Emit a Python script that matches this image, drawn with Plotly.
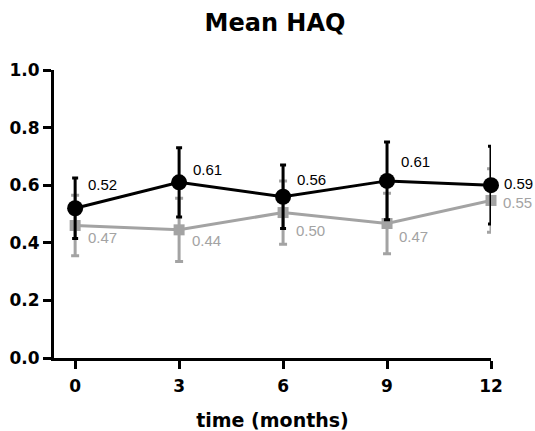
import plotly.graph_objects as go

# ---- data ----
months = [0, 3, 6, 9, 12]
tick_labels = ["0", "3", "6", "9", "12"]
y_ticks = [0, 0.2, 0.4, 0.6, 0.8, 1.0]
y_tick_labels = ["0.0", "0.2", "0.4", "0.6", "0.8", "1.0"]
black_mean = [0.52, 0.61, 0.56, 0.615, 0.60]
black_err = [0.105, 0.12, 0.11, 0.135, 0.135]
black_labels = ["0.52", "0.61", "0.56", "0.61", "0.59"]
gray_mean = [0.46, 0.445, 0.505, 0.467, 0.547]
gray_err = [0.105, 0.11, 0.11, 0.105, 0.11]
gray_labels = ["0.47", "0.44", "0.50", "0.47", "0.55"]

# label pixel offsets (style)
black_shift = [(11, 24), (12, 13), (12, 17), (12, 19), (11, 2)]
gray_shift = [(11, -12), (11, -11), (11, -18), (10, -13), (10, -2)]

GRAY = "#a3a3a3"
BOLD = "DejaVu Sans, sans-serif"
LBL = "Liberation Sans, Arial, sans-serif"

fig = go.Figure()
fig.add_trace(go.Scatter(
    x=months, y=gray_mean, mode="lines+markers",
    line=dict(color=GRAY, width=3),
    marker=dict(symbol="square", size=11, color=GRAY),
    error_y=dict(type="data", array=gray_err, color=GRAY, thickness=3, width=4),
    cliponaxis=False, showlegend=False, hoverinfo="skip",
))
fig.add_trace(go.Scatter(
    x=months, y=black_mean, mode="lines+markers",
    line=dict(color="black", width=3),
    marker=dict(symbol="circle", size=16, color="black"),
    error_y=dict(type="data", array=black_err, color="black", thickness=3, width=3),
    cliponaxis=False, showlegend=False, hoverinfo="skip",
))

for x, y, t, (dx, dy) in zip(months, black_mean, black_labels, black_shift):
    fig.add_annotation(x=x, y=y, text=t, showarrow=False, xanchor="left",
                       yanchor="middle", xshift=dx, yshift=dy,
                       font=dict(family=LBL, size=15, color="black"))
for x, y, t, (dx, dy) in zip(months, gray_mean, gray_labels, gray_shift):
    fig.add_annotation(x=x, y=y, text=t, showarrow=False, xanchor="left",
                       yanchor="middle", xshift=dx, yshift=dy,
                       font=dict(family=LBL, size=15, color=GRAY))

fig.update_layout(
    width=535, height=431,
    margin=dict(l=54, r=44, t=70, b=73),
    paper_bgcolor="white", plot_bgcolor="white",
    title=dict(text="<b>Mean HAQ</b>", x=275 / 535, xanchor="center",
               y=1 - 23 / 431, yanchor="middle",
               font=dict(family=BOLD, size=24, color="black")),
    font=dict(family=BOLD, color="black"),
)
fig.update_xaxes(
    range=[-0.61, 12], tickvals=months,
    ticktext=["<b>%s</b>" % t for t in tick_labels],
    showline=True, linecolor="black", linewidth=3,
    ticks="outside", ticklen=8, tickwidth=3, tickcolor="black",
    ticklabelstandoff=3,
    showgrid=False, zeroline=False, automargin=False,
    tickfont=dict(family=BOLD, size=17, color="black"),
    title=dict(text="<b>time (months)</b>", standoff=19,
               font=dict(family=BOLD, size=19, color="black")),
)
fig.update_yaxes(
    range=[0, 1.0], tickvals=y_ticks,
    ticktext=["<b>%s</b>" % t for t in y_tick_labels],
    showline=True, linecolor="black", linewidth=3,
    ticks="outside", ticklen=8, tickwidth=3, tickcolor="black",
    showgrid=False, zeroline=False, automargin=False,
    tickfont=dict(family=BOLD, size=17, color="black"),
)

fig.write_html("out.html", config={"displayModeBar": False},
               post_script="document.body.style.margin='0';")
